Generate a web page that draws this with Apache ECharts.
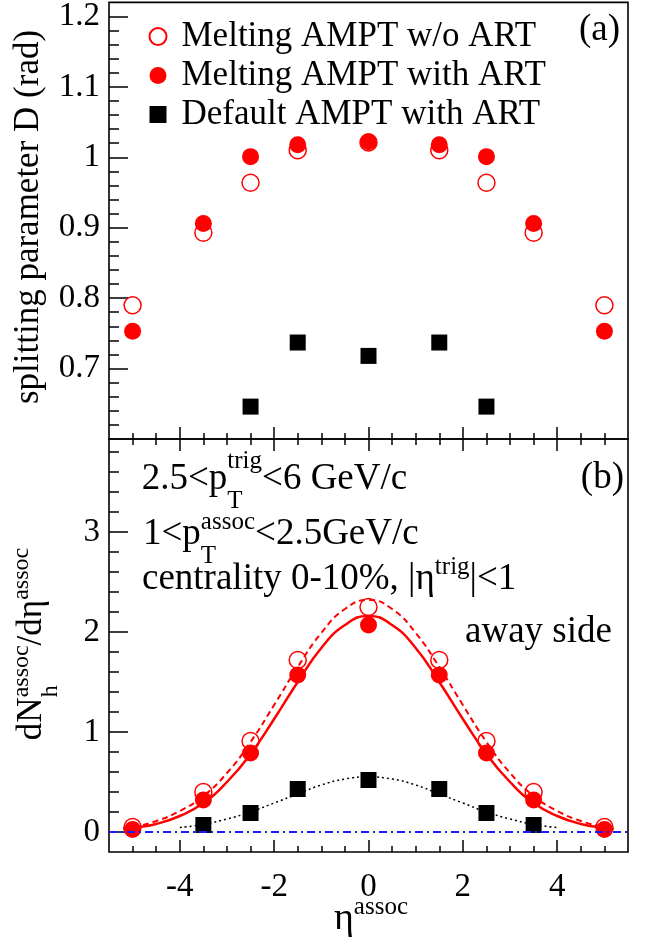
<!DOCTYPE html>
<html><head><meta charset="utf-8">
<script src="https://cdn.jsdelivr.net/npm/echarts@6/dist/echarts.min.js"></script>
<style>html,body{margin:0;padding:0;background:#fff}#c{width:646px;height:941px}</style>
</head><body><div id="c"></div>
<script>
// ---------------- data ----------------
const etaPoints = [-5, -3.5, -2.5, -1.5, 0, 1.5, 2.5, 3.5, 5];
const etaDefaultTop = [-2.5, -1.5, 0, 1.5, 2.5];
const etaDefaultBottom = [-3.5, -2.5, -1.5, 0, 1.5, 2.5, 3.5];

// (a) splitting parameter D (rad)
const D_meltNoArt = [0.790, 0.893, 0.964, 1.010, 1.021, 1.010, 0.964, 0.893, 0.790];
const D_meltArt   = [0.753, 0.906, 1.001, 1.018, 1.022, 1.018, 1.001, 0.906, 0.753];
const D_default   = [0.646, 0.737, 0.718, 0.737, 0.646];

// (b) dN/deta away side
const Y_meltNoArt = [0.05, 0.40, 0.91, 1.72, 2.25, 1.72, 0.91, 0.40, 0.05];
const Y_meltArt   = [0.025, 0.32, 0.79, 1.57, 2.07, 1.57, 0.79, 0.32, 0.025];
const Y_default   = [0.07, 0.19, 0.43, 0.52, 0.43, 0.19, 0.07];

// fit curves
const fitEta = [-5.2, -5, -4.5, -4, -3.5, -3, -2.5, -2, -1.5, -1, -0.5, 0, 0.5, 1, 1.5, 2, 2.5, 3, 3.5, 4, 4.5, 5, 5.2];
const fitNoArt = [0.04, 0.05, 0.11, 0.21, 0.36, 0.59, 0.90, 1.27, 1.65, 1.99, 2.23, 2.32, 2.23, 1.99, 1.65, 1.27, 0.90, 0.59, 0.36, 0.21, 0.11, 0.05, 0.04];
const fitArt   = [0.03, 0.04, 0.08, 0.16, 0.29, 0.50, 0.78, 1.13, 1.50, 1.84, 2.07, 2.16, 2.07, 1.84, 1.50, 1.13, 0.78, 0.50, 0.29, 0.16, 0.08, 0.04, 0.03];
const fitDefEta = [-4, -3.5, -3, -2.5, -2, -1.5, -1, -0.5, 0, 0.5, 1, 1.5, 2, 2.5, 3, 3.5, 4];
const fitDefault = [0.045, 0.076, 0.13, 0.20, 0.29, 0.38, 0.47, 0.53, 0.55, 0.53, 0.47, 0.38, 0.29, 0.20, 0.13, 0.076, 0.045];

// ticks
const xMajorTicks = [-4, -2, 0, 2, 4];
const xMinorTicks = [-5, -4.5, -3.5, -3, -2.5, -1.5, -1, -0.5, 0.5, 1, 1.5, 2.5, 3, 3.5, 4.5, 5];
const yTopMajorTicks = [0.7, 0.8, 0.9, 1.0, 1.1, 1.2];
const yTopMinorTicks = [0.62, 0.64, 0.66, 0.68, 0.72, 0.74, 0.76, 0.78, 0.82, 0.84, 0.86, 0.88, 0.92, 0.94, 0.96, 0.98, 1.02, 1.04, 1.06, 1.08, 1.12, 1.14, 1.16, 1.18];
const yBotMajorTicks = [0, 1, 2, 3];
const yBotMinorTicks = [0.2, 0.4, 0.6, 0.8, 1.2, 1.4, 1.6, 1.8, 2.2, 2.4, 2.6, 2.8, 3.2, 3.4, 3.6, 3.8];

const seriesNames = ['Melting AMPT w/o ART', 'Melting AMPT with ART', 'Default AMPT with ART'];

// ---------------- helpers ----------------
const FONT = '"Liberation Serif", "Times New Roman", serif';
const mctx = document.createElement('canvas').getContext('2d');
function tw(text, size) { mctx.font = size + 'px ' + FONT; return mctx.measureText(text).width; }
function txt(x, baseline, text, size) {
  return { type: 'text', x: x, y: baseline - 0.34 * size,
    style: { text: text, fontSize: size, fontFamily: FONT, fill: '#000', align: 'left', verticalAlign: 'middle' } };
}
// segs: {t} normal text; {sup, sub, up, down} stacked scripts
function latex(x0, baseline, segs, F, f) {
  const out = []; let x = x0;
  segs.forEach(s => {
    if (s.t !== undefined) { out.push(txt(x, baseline, s.t, F)); x += tw(s.t, F); }
    else {
      let w = 0;
      if (s.sup) { out.push(txt(x, baseline - s.up, s.sup, f)); w = Math.max(w, tw(s.sup, f)); }
      if (s.sub) { out.push(txt(x, baseline + s.down, s.sub, f)); w = Math.max(w, tw(s.sub, f)); }
      x += w;
    }
  });
  return out;
}

const xCommon = (gridIndex, pos, vals, len, labels) => ({
  type: 'value', gridIndex: gridIndex, position: pos, min: -5.5, max: 5.5,
  axisLine: { show: false, onZero: false },
  splitLine: { show: false },
  axisTick: { show: true, inside: true, length: len, customValues: vals, lineStyle: { color: '#000', width: 1.5 } },
  axisLabel: labels ? { show: true, customValues: xMajorTicks, fontSize: 33, fontFamily: FONT, color: '#000', margin: 19 } : { show: false }
});
const yCommon = (gridIndex, min, max, vals, len, labelVals) => ({
  type: 'value', gridIndex: gridIndex, position: 'left', min: min, max: max,
  axisLine: { show: false, onZero: false },
  splitLine: { show: false },
  axisTick: { show: true, inside: true, length: len, customValues: vals, lineStyle: { color: '#000', width: 1.5 } },
  axisLabel: labelVals ? { show: true, customValues: labelVals, fontSize: 33, fontFamily: FONT, color: '#000', margin: 9, padding: [9, 0, 0, 0] } : { show: false }
});

const zip = (xs, ys) => xs.map((x, i) => [x, ys[i]]);

const openCircle = { color: 'rgba(0,0,0,0)', borderColor: '#ff0000', borderWidth: 1.5, opacity: 1 };
const fullCircle = { color: '#ff0000', opacity: 1 };
const square = { color: '#000000', opacity: 1 };

// ---------------- graphic texts ----------------
const graphics = [];
const AF = 37, af = 25;
// (a), (b)
graphics.push({ type: 'text', x: 620, y: 43 - 0.34 * AF, style: { text: '(a)', fontSize: AF, fontFamily: FONT, fill: '#000', align: 'right', verticalAlign: 'middle' } });
graphics.push({ type: 'text', x: 624, y: 491 - 0.34 * AF, style: { text: '(b)', fontSize: AF, fontFamily: FONT, fill: '#000', align: 'right', verticalAlign: 'middle' } });
// annotations
latex(141.7, 491.7, [{ t: '2.5<p' }, { sup: 'trig', up: 22, sub: 'T', down: 18 }, { t: '<6 GeV/c' }], AF, af).forEach(g => graphics.push(g));
latex(143, 546.7, [{ t: '1<p' }, { sup: 'assoc', up: 16, sub: 'T', down: 18 }, { t: '<2.5GeV/c' }], AF, af).forEach(g => graphics.push(g));
latex(142, 592, [{ t: 'centrality 0-10%, |\u03b7' }, { sup: 'trig', up: 16 }, { t: '|<1' }], AF, af).forEach(g => graphics.push(g));
graphics.push(txt(465, 645, 'away side', AF));
// x axis title
latex(334, 932, [{ t: '\u03b7' }, { sup: 'assoc', up: 16 }], 38, af).forEach(g => graphics.push(g));
// top y title
graphics.push({ type: 'text', x: 29, y: 217, rotation: Math.PI / 2,
  style: { text: 'splitting parameter D (rad)', fontSize: 35, fontFamily: FONT, fill: '#000', align: 'center', verticalAlign: 'middle' } });
// bottom y title (rotated group)
(function () {
  const F = 35, f = 24;
  const segs = [{ t: 'dN' }, { sup: 'assoc', up: 14, sub: 'h', down: 15 }, { t: '/d\u03b7' }, { sup: 'assoc', up: 14 }];
  let total = 0;
  segs.forEach(s => { total += s.t !== undefined ? tw(s.t, F) : Math.max(s.sup ? tw(s.sup, f) : 0, s.sub ? tw(s.sub, f) : 0); });
  graphics.push({ type: 'group', x: 44, y: 644 + total / 2, rotation: Math.PI / 2, children: latex(0, 0, segs, F, f) });
})();

// ---------------- chart ----------------
const chart = echarts.init(document.getElementById('c'), null, { renderer: 'canvas' });
chart.setOption({
  animation: false,
  backgroundColor: '#ffffff',
  grid: [
    { left: 109, top: 2, width: 519, height: 437, show: true, borderColor: '#000', borderWidth: 1.6, backgroundColor: 'transparent' },
    { left: 109, top: 439, width: 519, height: 413, show: true, borderColor: '#000', borderWidth: 1.6, backgroundColor: 'transparent' }
  ],
  xAxis: [
    xCommon(0, 'bottom', xMajorTicks, 12, false),
    xCommon(0, 'bottom', xMinorTicks, 6, false),
    xCommon(1, 'bottom', xMajorTicks, 12, true),
    xCommon(1, 'bottom', xMinorTicks, 6, false),
    xCommon(1, 'top', xMajorTicks, 12, false),
    xCommon(1, 'top', xMinorTicks, 6, false)
  ],
  yAxis: [
    yCommon(0, 0.6, 1.22, yTopMajorTicks, 19, yTopMajorTicks),
    yCommon(0, 0.6, 1.22, yTopMinorTicks, 10, null),
    yCommon(1, -0.2, 3.93, yBotMajorTicks, 19, yBotMajorTicks),
    yCommon(1, -0.2, 3.93, yBotMinorTicks, 10, null)
  ],
  legend: {
    orient: 'vertical', left: 143.5, top: 14, itemWidth: 17, itemHeight: 17, itemGap: 4,
    data: seriesNames,
    itemStyle: { opacity: 1 },
    textStyle: { fontSize: 35, fontFamily: FONT, color: '#000', lineHeight: 35, padding: [0, 0, 0, 10] },
    selectedMode: false
  },
  graphic: graphics,
  series: [
    // (a)
    { name: seriesNames[0], type: 'scatter', xAxisIndex: 0, yAxisIndex: 0, symbol: 'circle', symbolSize: 17, itemStyle: openCircle, data: zip(etaPoints, D_meltNoArt), z: 3 },
    { name: seriesNames[1], type: 'scatter', xAxisIndex: 0, yAxisIndex: 0, symbol: 'circle', symbolSize: 17, itemStyle: fullCircle, data: zip(etaPoints, D_meltArt), z: 4 },
    { name: seriesNames[2], type: 'scatter', xAxisIndex: 0, yAxisIndex: 0, symbol: 'rect', symbolSize: 16, itemStyle: square, data: zip(etaDefaultTop, D_default), z: 4 },
    // (b) curves
    { name: 'fitNoArt', type: 'line', xAxisIndex: 2, yAxisIndex: 2, smooth: true, showSymbol: false, symbol: 'none',
      lineStyle: { color: '#ff0000', width: 2, type: [6, 4] }, data: zip(fitEta, fitNoArt), z: 2 },
    { name: 'fitArt', type: 'line', xAxisIndex: 2, yAxisIndex: 2, smooth: true, showSymbol: false, symbol: 'none',
      lineStyle: { color: '#ff0000', width: 2.5 }, data: zip(fitEta, fitArt), z: 2 },
    { name: 'fitDefault', type: 'line', xAxisIndex: 2, yAxisIndex: 2, smooth: true, showSymbol: false, symbol: 'none',
      lineStyle: { color: '#000', width: 1.5, type: [2, 3] }, data: zip(fitDefEta, fitDefault), z: 2,
      markLine: { silent: true, symbol: ['none', 'none'], label: { show: false },
        lineStyle: { color: '#1a1aff', width: 2, type: [8, 4, 2, 4] }, data: [{ yAxis: 0 }] } },
    // (b) points
    { name: seriesNames[0], type: 'scatter', xAxisIndex: 2, yAxisIndex: 2, symbol: 'circle', symbolSize: 17, itemStyle: openCircle, data: zip(etaPoints, Y_meltNoArt), z: 3 },
    { name: seriesNames[1], type: 'scatter', xAxisIndex: 2, yAxisIndex: 2, symbol: 'circle', symbolSize: 17, itemStyle: fullCircle, data: zip(etaPoints, Y_meltArt), z: 4 },
    { name: seriesNames[2], type: 'scatter', xAxisIndex: 2, yAxisIndex: 2, symbol: 'rect', symbolSize: 16, itemStyle: square, data: zip(etaDefaultBottom, Y_default), z: 4 }
  ]
});
</script>
</body></html>
